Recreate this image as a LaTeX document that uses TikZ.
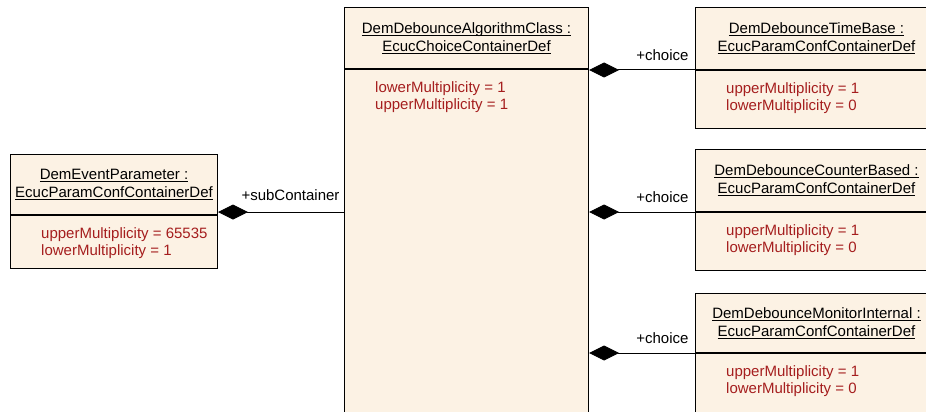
\documentclass[tikz,border=0pt]{standalone}
\usepackage{fontspec}
\setmainfont{Liberation Sans}
\usetikzlibrary{arrows.meta,calc}
\definecolor{boxfill}{RGB}{252,242,228}
\definecolor{attrred}{RGB}{165,30,30}
\newcommand\myul[1]{\setbox0\hbox{#1}\rlap{\rule[-2.6pt]{\wd0}{0.8pt}}\box0}
\begin{document}
\begin{tikzpicture}[x=1pt,y=-1pt,
  titlebox/.style={draw=black, line width=1pt, fill=boxfill, anchor=north west, inner sep=0pt, align=center, font=\fontsize{15}{18}\selectfont},
  attrbox/.style={draw=black, line width=1pt, fill=boxfill, anchor=north west, inner sep=0pt},
  attrtext/.style={anchor=north west, inner sep=0pt, align=left, text=attrred, font=\fontsize{15}{17.5}\selectfont},
  comp/.style={line width=1pt, {Diamond[length=30pt,width=15pt]}-},
  lbl/.style={font=\fontsize{15}{18}\selectfont, inner sep=0pt}
]
\useasboundingbox (0,0) rectangle (926,412);
\clip (0,0) rectangle (926,412);

% DemEventParameter
\node[titlebox, minimum width=207pt, minimum height=60pt] (evtT) at (10,154)
  {\myul{DemEventParameter :}\\\myul{EcucParamConfContainerDef}};
\node[attrbox, minimum width=207pt, minimum height=53pt] (evtA) at (evtT.south west) {};
\node[attrtext] (evtX) at ($(evtA.north west)+(31,12)$) {upperMultiplicity = 65535\\lowerMultiplicity = 1};

% DemDebounceAlgorithmClass
\node[titlebox, minimum width=244pt, minimum height=61pt] (algT) at (344,7)
  {\myul{DemDebounceAlgorithmClass :}\\\myul{EcucChoiceContainerDef}};
\node[attrbox, minimum width=244pt, minimum height=343.5pt] (algA) at (algT.south west) {};
\node[attrtext] (algX) at ($(algA.north west)+(31,12)$) {lowerMultiplicity = 1\\upperMultiplicity = 1};

% DemDebounceTimeBase
\node[titlebox, minimum width=242pt, minimum height=62pt] (tbT) at (695,7)
  {\myul{DemDebounceTimeBase :}\\\myul{EcucParamConfContainerDef}};
\node[attrbox, minimum width=242pt, minimum height=58pt] (tbA) at (tbT.south west) {};
\node[attrtext] (tbX) at ($(tbA.north west)+(31,12)$) {upperMultiplicity = 1\\lowerMultiplicity = 0};

% DemDebounceCounterBased
\node[titlebox, minimum width=242pt, minimum height=62pt] (cbT) at (695,149)
  {\myul{DemDebounceCounterBased :}\\\myul{EcucParamConfContainerDef}};
\node[attrbox, minimum width=242pt, minimum height=58pt] (cbA) at (cbT.south west) {};
\node[attrtext] (cbX) at ($(cbA.north west)+(31,12)$) {upperMultiplicity = 1\\lowerMultiplicity = 0};

% DemDebounceMonitorInternal
\node[titlebox, minimum width=242pt, minimum height=59pt] (miT) at (695,293)
  {\myul{DemDebounceMonitorInternal :}\\\myul{EcucParamConfContainerDef}};
\node[attrbox, minimum width=242pt, minimum height=59.5pt] (miA) at (miT.south west) {};
\node[attrtext] (miX) at ($(miA.north west)+(31,12)$) {upperMultiplicity = 1\\lowerMultiplicity = 0};

% connectors
\coordinate (evtC) at ($(evtT.south east)+(0,-3)$);
\draw[comp] (evtC) -- (evtC -| algT.west)
  node[lbl, pos=1, anchor=base east, xshift=-4pt, yshift=12pt] {+subContainer};
\draw[comp] (algT.east |- tbT.south) -- (tbT.south west)
  node[lbl, pos=1, anchor=base east, xshift=-6pt, yshift=10pt] {+choice};
\draw[comp] (algT.east |- cbT.south) -- (cbT.south west)
  node[lbl, pos=1, anchor=base east, xshift=-6pt, yshift=10pt] {+choice};
\draw[comp] (algT.east |- miT.south) -- (miT.south west)
  node[lbl, pos=1, anchor=base east, xshift=-6pt, yshift=10pt] {+choice};
\end{tikzpicture}
\end{document}
